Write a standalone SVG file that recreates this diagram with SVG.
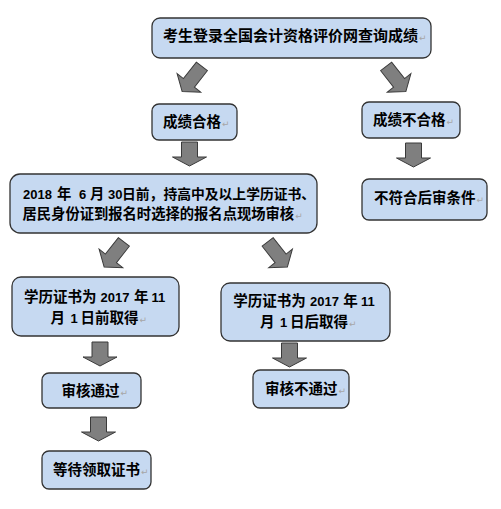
<svg xmlns="http://www.w3.org/2000/svg" width="501" height="509" viewBox="0 0 501 509">
<style>
.box{fill:#c6d9f1;stroke:#333;stroke-width:1.3}
.t{font-family:"Noto Sans CJK SC","Noto Sans",sans-serif;font-weight:bold;font-size:14.5px;fill:#000}
.n{font-family:"Liberation Sans",Arial,sans-serif;font-size:13px;font-weight:bold}
.p{font-family:"DejaVu Sans",sans-serif;font-size:9px;font-weight:normal;fill:#a6a6a6}
</style>
<defs>
<path id="diag" d="M-7,-16H7V5H15L0,16L-15,5H-7Z"/>
<path id="down" d="M-8,0H8V15H17L0,24L-17,15H-8Z"/>
</defs>
<rect width="501" height="509" fill="#fff"/>
<g id="connectors" fill="#7f7f7f" stroke="#3a3a3a" stroke-width="1">
<use href="#diag" transform="translate(192,79) rotate(38)"/>
<use href="#diag" transform="translate(396,79) rotate(-38)"/>
<use href="#down" transform="translate(189.5,142)"/>
<use href="#down" transform="translate(413.5,143)"/>
<use href="#diag" transform="translate(114,254.5) rotate(38)"/>
<use href="#diag" transform="translate(277.5,254.5) rotate(-38)"/>
<use href="#down" transform="translate(100,342)"/>
<use href="#down" transform="translate(289.5,343)"/>
<use href="#down" transform="translate(98.5,417)"/>
</g>
<g id="n1">
<rect class="box" x="152" y="18" width="279" height="40" rx="8"/>
<text class="t" x="163" y="40.5" style="font-size:15px">考生登录全国会计资格评价网查询成绩<tspan class="p" dx="1">↵</tspan></text>
</g>
<g id="n2">
<rect class="box" x="152" y="104" width="85" height="36" rx="7"/>
<text class="t" x="163" y="127">成绩合格<tspan class="p" dx="1">↵</tspan></text>
</g>
<g id="n3">
<rect class="box" x="362" y="102" width="98" height="36" rx="7"/>
<text class="t" x="373" y="125">成绩不合格<tspan class="p" dx="1">↵</tspan></text>
</g>
<g id="n4">
<rect class="box" x="362" y="179" width="125" height="41" rx="7"/>
<text class="t" x="374" y="203">不符合后审条件<tspan class="p" dx="1">↵</tspan></text>
</g>
<g id="n5">
<rect class="box" x="10" y="174" width="307" height="59" rx="10"/>
<text class="t" y="199" style="font-size:14.3px"><tspan class="n" x="23">2018</tspan><tspan x="57">年</tspan><tspan class="n" x="79">6</tspan><tspan x="90">月</tspan><tspan class="n" x="108">30</tspan><tspan x="122" style="font-size:13.8px">日前，持高中及以上学历证书、</tspan></text>
<text class="t" x="22.5" y="219" style="font-size:14.3px">居民身份证到报名时选择的报名点现场审核<tspan class="p" dx="1">↵</tspan></text>
</g>
<g id="n6">
<rect class="box" x="12" y="277" width="167" height="59" rx="9"/>
<text class="t" y="301.5"><tspan x="24">学历证书为</tspan><tspan class="n" x="100.5">2017</tspan><tspan x="134">年</tspan><tspan class="n" x="151.5">11</tspan></text>
<text class="t" y="322.5"><tspan x="50.5">月</tspan><tspan class="n" x="70.5">1</tspan><tspan x="80.5">日前取得</tspan><tspan class="p" dx="1">↵</tspan></text>
</g>
<g id="n7">
<rect class="box" x="221" y="283" width="169" height="58" rx="9"/>
<text class="t" y="306"><tspan x="233.3">学历证书为</tspan><tspan class="n" x="310">2017</tspan><tspan x="343.3">年</tspan><tspan class="n" x="361">11</tspan></text>
<text class="t" y="326.5"><tspan x="260">月</tspan><tspan class="n" x="280">1</tspan><tspan x="290">日后取得</tspan><tspan class="p" dx="1">↵</tspan></text>
</g>
<g id="n8">
<rect class="box" x="42" y="373" width="99" height="35" rx="7"/>
<text class="t" x="61.5" y="395.5">审核通过<tspan class="p" dx="1">↵</tspan></text>
</g>
<g id="n9">
<rect class="box" x="253" y="370" width="96" height="38" rx="7"/>
<text class="t" x="265" y="394">审核不通过<tspan class="p" dx="1">↵</tspan></text>
</g>
<g id="n10">
<rect class="box" x="42" y="451" width="109" height="38" rx="7"/>
<text class="t" x="53" y="475">等待领取证书<tspan class="p" dx="1">↵</tspan></text>
</g>
</svg>
